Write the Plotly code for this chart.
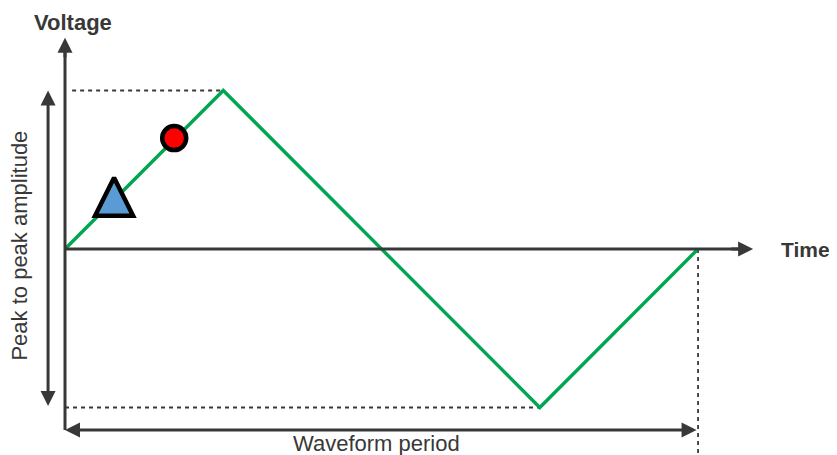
import plotly.graph_objects as go

# ---- data ----
time = [0, 1, 3, 4]
voltage = [0, 1, -1, 0]
circle_point = [0.69, 0.70]
triangle_point = [0.31, 0.45]
labels = ["Voltage", "Time", "Peak to peak amplitude", "Waveform period"]

AX = "#383838"
GREEN = "#00a651"
FONT = "Liberation Sans, Arial, sans-serif"

peak_t, peak_v = time[1], max(voltage)
trough_t, trough_v = time[2], min(voltage)
period = time[-1]

fig = go.Figure()

fig.add_trace(go.Scatter(x=time, y=voltage, mode="lines",
                         line=dict(color=GREEN, width=3.4), hoverinfo="skip"))
fig.add_trace(go.Scatter(x=[triangle_point[0]], y=[triangle_point[1]], mode="markers",
                         marker=dict(symbol="arrow-up", size=38, color="#5b9bd5",
                                     line=dict(color="black", width=4.5)), hoverinfo="skip"))
fig.add_trace(go.Scatter(x=[circle_point[0]], y=[circle_point[1]], mode="markers",
                         marker=dict(symbol="circle", size=24, color="#ff0000",
                                     line=dict(color="black", width=4.5)), hoverinfo="skip"))

dash = dict(color=AX, width=1.8, dash="4px,4px")
fig.add_shape(type="line", x0=0.045, x1=peak_t, y0=peak_v, y1=peak_v, line=dash, layer="below")
fig.add_shape(type="line", x0=0.0, x1=trough_t, y0=trough_v, y1=trough_v, line=dash, layer="below")
fig.add_shape(type="line", x0=period, x1=period, y0=0, y1=-1.4, line=dash, layer="below")


def arrow(x0, y0, x1, y1, both=False):
    fig.add_annotation(x=x1, y=y1, ax=x0, ay=y0, xref="x", yref="y", axref="x", ayref="y",
                       text="", showarrow=True, arrowhead=2, arrowsize=1, arrowwidth=3,
                       arrowcolor=AX, arrowside="end+start" if both else "end", standoff=0,
                       startstandoff=0)

# axes
fig.add_shape(type="line", x0=0, x1=0, y0=-1.142, y1=1.25, line=dict(color=AX, width=3))
arrow(0, 1.2, 0, 1.333)
fig.add_shape(type="line", x0=0, x1=4.3, y0=0, y1=0, line=dict(color=AX, width=3))
arrow(4.2, 0, 4.348, 0)
# peak to peak
arrow(-0.107, trough_v, -0.107, peak_v, both=True)
# period
arrow(period, -1.142, 0, -1.142, both=True)

fig.add_annotation(x=0.05, y=1.43, text="<b>" + labels[0] + "</b>", showarrow=False,
                   font=dict(family=FONT, size=22, color=AX), xanchor="center", yanchor="middle")
fig.add_annotation(x=4.52, y=0.0, text="<b>" + labels[1] + "</b>", showarrow=False,
                   font=dict(family=FONT, size=21, color=AX), xanchor="left", yanchor="middle",
                   borderpad=0)
fig.add_annotation(x=-0.286, y=0.02, text=labels[2], showarrow=False, textangle=-90,
                   font=dict(family=FONT, size=22, color=AX), xanchor="center", yanchor="middle")
fig.add_annotation(x=1.97, y=-1.225, text=labels[3], showarrow=False,
                   font=dict(family=FONT, size=22, color=AX), xanchor="center", yanchor="middle")

# page body has an 8px margin; figure sized to fit the window and ranges compensate
fig.update_layout(
    width=829, height=447, margin=dict(l=0, r=0, t=0, b=0),
    paper_bgcolor="white", plot_bgcolor="white", showlegend=False,
    xaxis=dict(range=[-0.3602, 4.878], visible=False, fixedrange=True),
    yaxis=dict(range=[-1.2997, 1.5205], visible=False, fixedrange=True),
)

fig.write_html("out.html")
